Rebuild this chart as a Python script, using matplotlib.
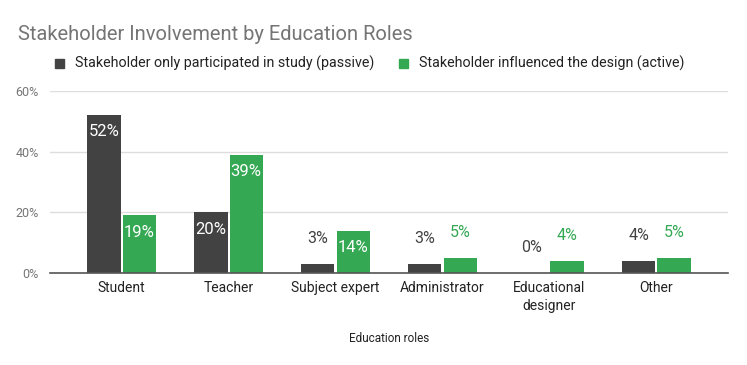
import matplotlib
matplotlib.use("Agg")
import matplotlib.pyplot as plt
import numpy as np

plt.rcParams["font.family"] = ["Roboto", "DejaVu Sans"]

roles = ["Student", "Teacher", "Subject expert", "Administrator", "Educational\ndesigner", "Other"]
passive = [52, 20, 3, 3, 0, 4]
active = [19, 39, 14, 5, 4, 5]
series_labels = ["Stakeholder only participated in study (passive)",
                 "Stakeholder influenced the design (active)"]
yticks = [0, 20, 40, 60]

DARK = "#424242"
GREEN = "#34A853"

fig = plt.figure(figsize=(7.47, 3.65), dpi=100)
ax = fig.add_axes([50 / 747, 1 - 273 / 365, 678 / 747, 182 / 365])

x = np.arange(len(roles))
w = 0.31
b1 = ax.bar(x - 0.165, passive, w, color=DARK, zorder=3)
b2 = ax.bar(x + 0.165, active, w, color=GREEN, zorder=3)

# labels inside the tall bars, above the short ones
for bars, vals, col in [(b1, passive, DARK), (b2, active, GREEN)]:
    for bar, v in zip(bars, vals):
        cx = bar.get_x() + bar.get_width() / 2
        if v >= 10:
            ax.annotate(f"{v}%", (cx, v), xytext=(0, -12), textcoords="offset points",
                        ha="center", va="center", color="white", fontsize=12, zorder=4)
        else:
            ax.annotate(f"{v}%", (cx, v), xytext=(0, 18), textcoords="offset points",
                        ha="center", va="center", color=col, fontsize=11.5, zorder=4)

ax.set_xlim(-0.67, 5.67)
ax.set_ylim(0, 60)
ax.set_yticks(yticks)
ax.set_yticklabels([f"{t}%" for t in yticks])
ax.set_xticks(x)
ax.set_xticklabels(roles, fontsize=10, color="#222222", linespacing=1.3)
ax.tick_params(axis="y", length=0, labelsize=9, labelcolor="#757575", pad=8)
ax.tick_params(axis="x", length=0, pad=6)
ax.grid(axis="y", color="#dddddd", linewidth=1, zorder=0)
for s in ["top", "right", "left"]:
    ax.spines[s].set_visible(False)
ax.spines["bottom"].set_color("#555555")
ax.spines["bottom"].set_linewidth(1.2)
ax.spines["bottom"].set_zorder(5)

ax.set_xlabel("Education roles", fontsize=8.5, color="#222222", labelpad=14)

fig.text(18 / 747, 1 - 35 / 365, "Stakeholder Involvement by Education Roles",
         fontsize=14.5, color="#757575", va="center", ha="left")

# legend: squares + text
fig.patches.append(plt.Rectangle((55 / 747, 1 - 68 / 365), 9 / 747, 9 / 365,
                                 transform=fig.transFigure, color=DARK))
fig.text(75 / 747, 1 - 63 / 365, series_labels[0], fontsize=10.3, color="#222222", va="center")
fig.patches.append(plt.Rectangle((399 / 747, 1 - 68 / 365), 9 / 747, 9 / 365,
                                 transform=fig.transFigure, color=GREEN))
fig.text(419 / 747, 1 - 63 / 365, series_labels[1], fontsize=10.3, color="#222222", va="center")

fig.savefig("out.png", dpi=100)
